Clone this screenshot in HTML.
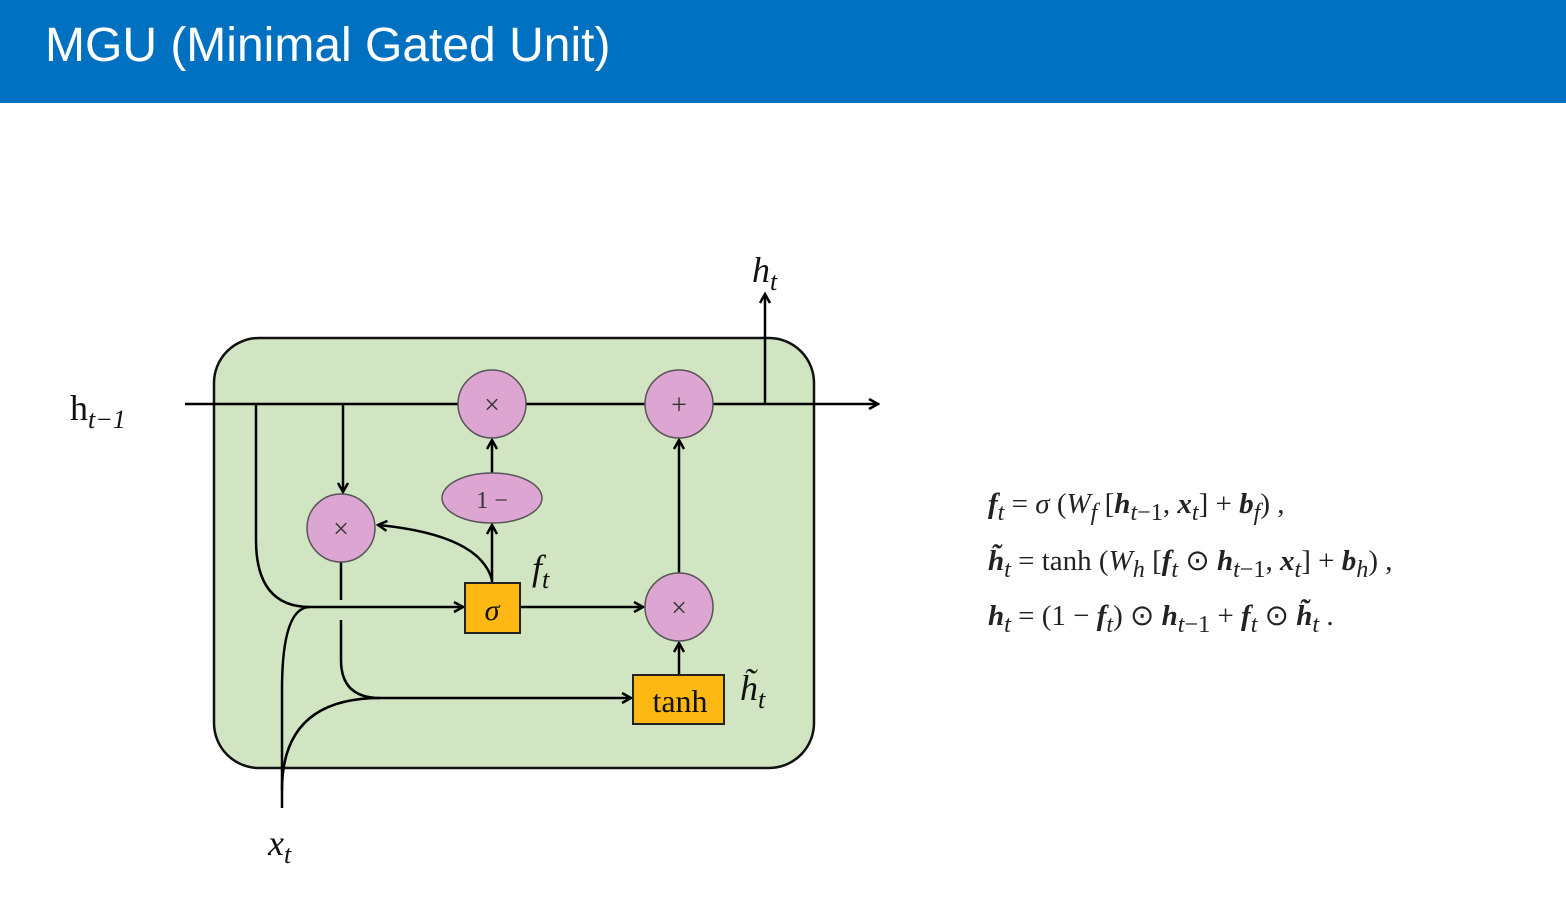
<!DOCTYPE html>
<html><head><meta charset="utf-8"><style>
body{margin:0;width:1566px;height:907px;background:#fff;overflow:hidden;font-family:"Liberation Serif",serif}
.hdr{position:absolute;left:0;top:0;width:1566px;height:103px;background:#0070c0}
.hdr span{position:absolute;left:45px;top:18px;color:#fff;font:48px "Liberation Sans",sans-serif}
.eq{position:absolute;left:988px;font-size:29px;color:#222;white-space:nowrap}
</style></head><body>
<div class="hdr"><span>MGU (Minimal Gated Unit)</span></div>
<svg width="1566" height="907" style="position:absolute;left:0;top:0">
<defs><marker id="a" markerWidth="12" markerHeight="12" refX="10" refY="6" orient="auto" markerUnits="userSpaceOnUse"><path d="M1,1 L10,6 L1,11" fill="none" stroke="#000" stroke-width="2.5"/></marker></defs>
<rect x="214" y="338" width="600" height="430" rx="45" fill="#d1e5c2" stroke="#111" stroke-width="2.5"/>
<g stroke="#000" stroke-width="2.5" fill="none">
<line x1="185" y1="404" x2="878" y2="404" marker-end="url(#a)"/>
<line x1="765" y1="404" x2="765" y2="294" marker-end="url(#a)"/>
<line x1="343" y1="404" x2="343" y2="492" marker-end="url(#a)"/>
<path d="M256,404 L256,540 Q256,607 310,607 L463,607" marker-end="url(#a)"/>
<path d="M282,808 L282,690 Q282,607 310,607"/>
<path d="M282,790 Q282,698 380,698 L631,698" marker-end="url(#a)"/>
<path d="M341,562 L341,600"/>
<path d="M341,620 L341,660 Q341,698 380,698"/>
<line x1="492" y1="583" x2="492" y2="525" marker-end="url(#a)"/>
<line x1="492" y1="473" x2="492" y2="440" marker-end="url(#a)"/>
<path d="M492,580 Q480,535 378,525" marker-end="url(#a)"/>
<line x1="520" y1="607" x2="643" y2="607" marker-end="url(#a)"/>
<line x1="679" y1="675" x2="679" y2="643" marker-end="url(#a)"/>
<line x1="679" y1="573" x2="679" y2="440" marker-end="url(#a)"/>
</g>
<g fill="#dda6d2" stroke="#555" stroke-width="1.5">
<circle cx="492" cy="404" r="34"/><circle cx="679" cy="404" r="34"/>
<circle cx="341" cy="528" r="34"/><circle cx="679" cy="607" r="34"/>
<ellipse cx="492" cy="498" rx="50" ry="25"/>
</g>
<g fill="#fdb813" stroke="#222" stroke-width="2">
<rect x="465" y="583" width="55" height="50"/><rect x="633" y="675" width="91" height="49"/>
</g>
<g font-family="Liberation Serif,serif" fill="#333" text-anchor="middle">
<text x="492" y="414" font-size="28">×</text><text x="679" y="414" font-size="28">+</text>
<text x="341" y="538" font-size="28">×</text><text x="679" y="617" font-size="28">×</text>
<text x="492" y="508" font-size="24">1 −</text>
<text x="492" y="620" font-size="30" font-style="italic" fill="#111">σ</text>
<text x="680" y="712" font-size="32" fill="#111">tanh</text>
</g>
<g font-family="Liberation Serif,serif" fill="#111" font-size="36">
<text x="752" y="282" font-style="italic">h<tspan font-size="26" dy="8">t</tspan></text>
<text x="532" y="580" font-style="italic">f<tspan font-size="26" dy="8">t</tspan></text>
<text x="740" y="700" font-style="italic">h̃<tspan font-size="26" dy="8">t</tspan></text>
<text x="70" y="420">h<tspan font-size="26" dy="8" font-style="italic">t−1</tspan></text>
<text x="268" y="855" font-style="italic">x<tspan font-size="26" dy="8">t</tspan></text>
</g>
</svg>
<div class="eq" style="top:488px"><b><i>f</i></b><sub><i>t</i></sub> = <i>σ</i> (<i>W<sub>f</sub></i> [<b><i>h</i></b><sub><i>t</i>−1</sub>, <b><i>x</i></b><sub><i>t</i></sub>] + <b><i>b</i></b><sub><i>f</i></sub>) ,</div>
<div class="eq" style="top:543px"><b><i>h̃</i></b><sub><i>t</i></sub> = tanh (<i>W<sub>h</sub></i> [<b><i>f</i></b><sub><i>t</i></sub> ⊙ <b><i>h</i></b><sub><i>t</i>−1</sub>, <b><i>x</i></b><sub><i>t</i></sub>] + <b><i>b</i></b><sub><i>h</i></sub>) ,</div>
<div class="eq" style="top:598px"><b><i>h</i></b><sub><i>t</i></sub> = (1 − <b><i>f</i></b><sub><i>t</i></sub>) ⊙ <b><i>h</i></b><sub><i>t</i>−1</sub> + <b><i>f</i></b><sub><i>t</i></sub> ⊙ <b><i>h̃</i></b><sub><i>t</i></sub> .</div>
</body></html>
